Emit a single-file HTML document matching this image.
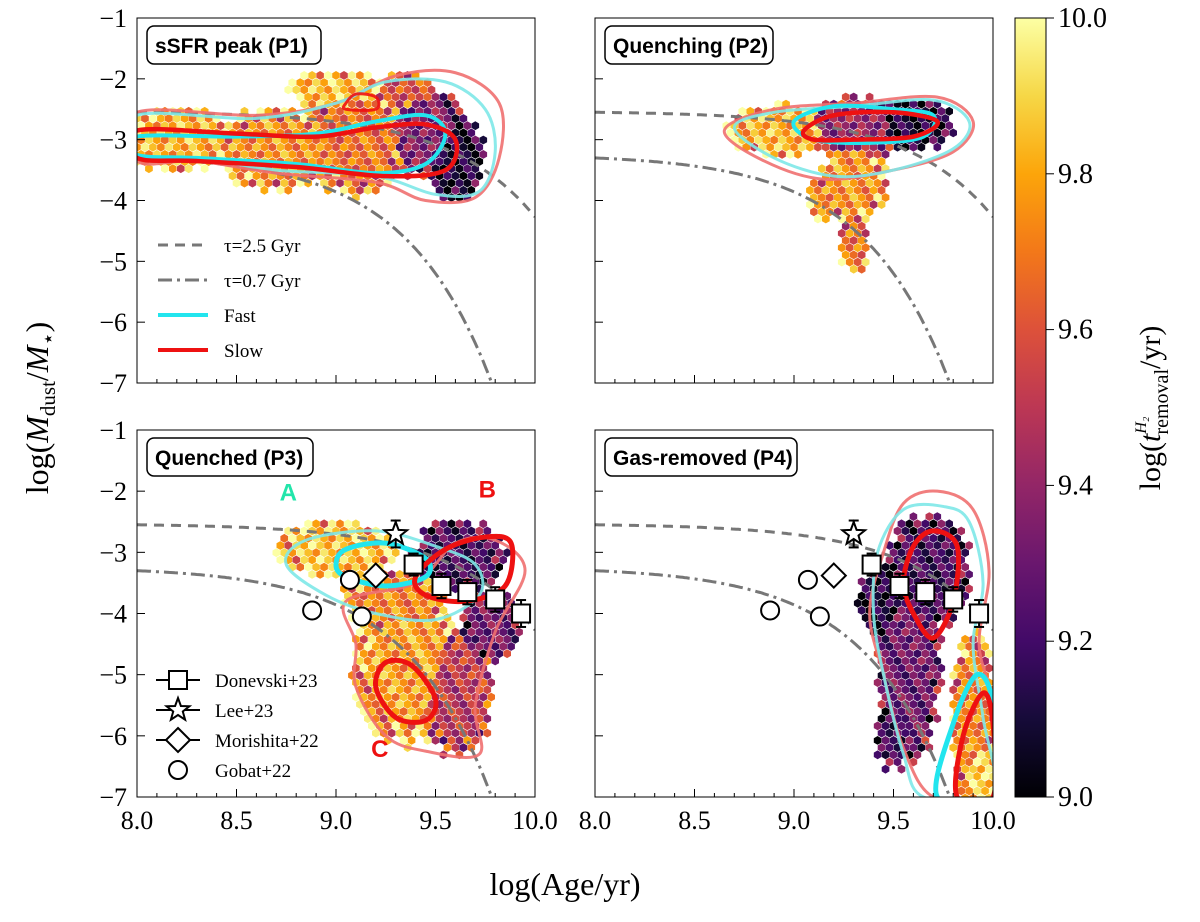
<!DOCTYPE html>
<html><head><meta charset="utf-8">
<style>
body{margin:0;background:#fff;width:1200px;height:917px;overflow:hidden;font-family:"Liberation Serif",serif;}
svg text{font-family:"Liberation Serif",serif;}
.lbl{font-family:"Liberation Sans",sans-serif;font-weight:bold;}
</style></head>
<body>
<svg id="fig" width="1200" height="917" viewBox="0 0 1200 917" xmlns="http://www.w3.org/2000/svg">
<defs>
<linearGradient id="cbg" x1="0" y1="1" x2="0" y2="0">
<stop offset="0" stop-color="#000004"/><stop offset="0.1" stop-color="#160b39"/><stop offset="0.2" stop-color="#420a68"/><stop offset="0.3" stop-color="#6a176e"/><stop offset="0.4" stop-color="#932667"/><stop offset="0.5" stop-color="#bc3754"/><stop offset="0.6" stop-color="#dd513a"/><stop offset="0.7" stop-color="#f37819"/><stop offset="0.8" stop-color="#fca50a"/><stop offset="0.9" stop-color="#f6d746"/><stop offset="1" stop-color="#fcffa4"/>
</linearGradient>
</defs>
<g id="plots"></g>
<g id="colorbar">
<rect x="1015" y="18" width="31" height="779" fill="url(#cbg)" stroke="#000" stroke-width="1"/>
</g>
<text x="48" y="408" font-size="32" text-anchor="middle" transform="rotate(-90 48 408)">log(<tspan font-style="italic">M</tspan><tspan font-size="21" dy="7">dust</tspan><tspan dy="-7">/</tspan><tspan font-style="italic">M</tspan><tspan font-size="21" dy="7">⋆</tspan><tspan dy="-7">)</tspan></text>
<text x="565" y="895" font-size="32" text-anchor="middle">log(Age/yr)</text>
<text x="1160" y="408" font-size="30" text-anchor="middle" transform="rotate(-90 1160 408)">log(<tspan font-style="italic">t</tspan><tspan font-size="16" font-style="italic" dy="-14">H₂</tspan><tspan font-size="20" dx="-18" dy="22">removal</tspan><tspan dy="-8">/yr)</tspan></text>
</svg>
<script>
// ---- data ----
var xTicks=[8.0,8.5,9.0,9.5,10.0];
var yTicks=[-1,-2,-3,-4,-5,-6,-7];
var cbTicks=[9.0,9.2,9.4,9.6,9.8,10.0];
var panelTitles=["sSFR peak (P1)","Quenching (P2)","Quenched (P3)","Gas-removed (P4)"];
var tauSlow=2.5, tauFast=0.7, slowY0=-2.55, fastY0=-3.3;
// density clusters per panel: [age, logratio, rx, ry, log t_removal]
var cl1=[[8.2,-3.0,0.3,0.55,9.82],[8.7,-3.15,0.35,0.7,9.75],[9.1,-3.0,0.3,0.95,9.68],[9.45,-2.9,0.2,0.8,9.35],[9.6,-3.3,0.16,0.75,9.1],[9.0,-2.2,0.25,0.35,9.85],[9.35,-2.2,0.15,0.3,9.6]];
var cl2=[[8.95,-2.85,0.3,0.45,9.82],[9.3,-2.8,0.28,0.55,9.4],[9.6,-2.75,0.22,0.45,9.1],[9.3,-3.7,0.18,0.7,9.75],[9.3,-4.7,0.08,0.5,9.7],[9.15,-4.0,0.1,0.4,9.75]];
var cl3=[[9.0,-2.95,0.32,0.5,9.85],[9.62,-3.05,0.25,0.6,9.2],[9.35,-4.9,0.28,1.3,9.78],[9.3,-3.8,0.28,0.55,9.72],[9.6,-5.3,0.2,1.1,9.5],[9.78,-4.2,0.16,0.6,9.3]];
var cl4=[[9.68,-3.3,0.22,1.0,9.2],[9.58,-4.9,0.17,1.6,9.3],[9.9,-5.7,0.12,1.5,9.72],[9.93,-6.6,0.1,0.6,9.88],[9.45,-3.8,0.14,0.6,9.1],[9.5,-6.0,0.1,0.6,9.2]];
// contours [age, y] closed loops
var c1cyanOuter=[[8.0,-2.6],[8.6,-2.65],[9.0,-2.4],[9.25,-2.05],[9.55,-2.05],[9.75,-2.5],[9.8,-3.2],[9.72,-3.85],[9.5,-3.9],[9.2,-3.6],[8.7,-3.5],[8.3,-3.3],[8.0,-3.3]];
var c1redOuter=[[8.0,-2.55],[8.6,-2.6],[9.0,-2.4],[9.3,-1.95],[9.6,-1.9],[9.82,-2.4],[9.82,-3.3],[9.7,-3.95],[9.45,-4.0],[9.2,-3.7],[8.7,-3.55],[8.3,-3.35],[8.0,-3.35]];
var c1cyan=[[8.0,-2.95],[8.5,-2.95],[8.9,-2.9],[9.2,-2.7],[9.45,-2.6],[9.55,-2.9],[9.45,-3.4],[9.2,-3.55],[8.8,-3.4],[8.3,-3.3],[8.0,-3.25]];
var c1red=[[8.0,-2.85],[8.5,-2.9],[8.9,-2.95],[9.2,-2.8],[9.45,-2.75],[9.6,-3.0],[9.55,-3.5],[9.25,-3.6],[8.8,-3.45],[8.3,-3.35],[8.0,-3.3]];
var c1red2=[[9.05,-2.4],[9.1,-2.25],[9.2,-2.3],[9.2,-2.5],[9.05,-2.5]];
var c2cyanOuter=[[8.7,-2.8],[8.9,-2.55],[9.3,-2.45],[9.7,-2.35],[9.88,-2.7],[9.8,-3.15],[9.5,-3.5],[9.2,-3.6],[8.9,-3.3]];
var c2redOuter=[[8.65,-2.85],[8.9,-2.5],[9.3,-2.4],[9.72,-2.3],[9.9,-2.7],[9.8,-3.2],[9.5,-3.5],[9.15,-3.65],[8.85,-3.35]];
var c2cyan=[[9.0,-2.7],[9.2,-2.45],[9.5,-2.5],[9.7,-2.6],[9.65,-2.95],[9.4,-3.05],[9.1,-3.0]];
var c2red=[[9.05,-2.85],[9.2,-2.6],[9.5,-2.55],[9.72,-2.7],[9.6,-2.95],[9.3,-3.0],[9.1,-3.0]];
var c3cyanOuter=[[8.75,-3.2],[8.85,-2.8],[9.2,-2.65],[9.5,-2.9],[9.7,-3.2],[9.72,-3.7],[9.5,-4.1],[9.2,-4.0],[8.95,-3.7]];
var c3cyan=[[9.0,-3.2],[9.05,-2.95],[9.25,-2.85],[9.45,-3.1],[9.45,-3.4],[9.25,-3.55],[9.05,-3.4]];
var c3redOuter=[[9.05,-3.8],[9.4,-3.5],[9.6,-2.85],[9.8,-2.8],[9.95,-3.3],[9.8,-4.3],[9.7,-5.5],[9.72,-6.3],[9.45,-6.25],[9.25,-6.0],[9.1,-5.2],[9.1,-4.5]];
var c3redB=[[9.4,-3.4],[9.55,-2.95],[9.75,-2.75],[9.88,-2.85],[9.85,-3.55],[9.65,-3.8],[9.45,-3.7]];
var c3redC=[[9.2,-5.2],[9.25,-4.8],[9.38,-4.85],[9.5,-5.4],[9.45,-5.75],[9.3,-5.7]];
var c4cyanOuter=[[9.42,-3.0],[9.55,-2.3],[9.75,-2.25],[9.88,-2.5],[9.95,-3.5],[9.9,-4.5],[9.95,-5.7],[10.0,-7],[9.65,-7],[9.55,-6.3],[9.45,-5.0],[9.4,-4.0]];
var c4redOuter=[[9.45,-3.0],[9.55,-2.2],[9.72,-2.0],[9.9,-2.3],[9.98,-3.3],[9.93,-4.5],[10.0,-5.5],[10.0,-7],[9.7,-7],[9.55,-6.2],[9.45,-5.0],[9.38,-4.0]];
var c4red=[[9.55,-3.5],[9.6,-2.9],[9.7,-2.65],[9.82,-2.9],[9.8,-3.8],[9.7,-4.4],[9.6,-4.0]];
var c4cyan=[[9.72,-7],[9.8,-5.8],[9.92,-5.0],[10.0,-5.5],[10.0,-7]];
var c4red2=[[9.82,-7],[9.85,-6.0],[9.95,-5.3],[10.0,-5.8],[10.0,-7]];
// observations
var donX=[9.39,9.53,9.66,9.8,9.93], donY=[-3.2,-3.55,-3.65,-3.77,-4.0], donE=[0.18,0.2,0.2,0.2,0.22];
var leeX=[9.3], leeY=[-2.7], leeE=[0.22];
var morX=[9.2], morY=[-3.38];
var gobX=[8.88,9.07,9.13], gobY=[-3.95,-3.45,-4.05];

// ---- helpers ----
var NS="http://www.w3.org/2000/svg";
var inf=[[0,0,0,4],[0.1,22,11,57],[0.2,66,10,104],[0.3,106,23,110],[0.4,147,38,103],[0.5,188,55,84],[0.6,221,81,58],[0.7,243,120,25],[0.8,252,165,10],[0.9,246,215,70],[1,252,255,164]];
function cmap(v){var t=Math.max(0,Math.min(1,v-9));for(var i=1;i<inf.length;i++){if(t<=inf[i][0]){var a=inf[i-1],b=inf[i],f=(t-a[0])/(b[0]-a[0]);return "rgb("+[1,2,3].map(function(k){return Math.round(a[k]+f*(b[k]-a[k]));}).join(",")+")";}}return "rgb(252,255,164)";}
function mk(tag,attrs,parent){var e=document.createElementNS(NS,tag);for(var k in attrs)e.setAttribute(k,attrs[k]);parent.appendChild(e);return e;}
var root=document.getElementById('plots');
var panels=[{x0:137,x1:535,y0:18,y1:383},{x0:595,x1:993,y0:18,y1:383},{x0:137,x1:535,y0:430,y1:797},{x0:595,x1:993,y0:430,y1:797}];
var clusters=[cl1,cl2,cl3,cl4];
var contours=[
 [[c1redOuter,"#f07070",3],[c1cyanOuter,"#7ee8e8",3],[c1cyan,"#22e5ee",4],[c1red,"#ee1111",4.5],[c1red2,"#ee1111",3]],
 [[c2redOuter,"#f07070",3],[c2cyanOuter,"#7ee8e8",3],[c2cyan,"#22e5ee",4],[c2red,"#ee1111",4.5]],
 [[c3redOuter,"#f07070",3],[c3cyanOuter,"#7ee8e8",3],[c3cyan,"#22e5ee",5],[c3redB,"#ee1111",5],[c3redC,"#ee1111",5]],
 [[c4redOuter,"#f07070",3],[c4cyanOuter,"#7ee8e8",3],[c4red,"#ee1111",5],[c4cyan,"#22e5ee",5],[c4red2,"#ee1111",5]]];
function smooth(pts){var n=pts.length,d="";for(var i=0;i<n;i++){var p0=pts[(i-1+n)%n],p1=pts[i],p2=pts[(i+1)%n],p3=pts[(i+2)%n];if(i==0)d+="M"+p1[0]+","+p1[1];var c1=[p1[0]+(p2[0]-p0[0])/6,p1[1]+(p2[1]-p0[1])/6],c2=[p2[0]-(p3[0]-p1[0])/6,p2[1]-(p3[1]-p1[1])/6];d+="C"+c1[0]+","+c1[1]+" "+c2[0]+","+c2[1]+" "+p2[0]+","+p2[1];}return d+"Z";}

panels.forEach(function(P,pi){
 var sx=function(v){return P.x0+(v-8)/2*(P.x1-P.x0);};
 var sy=function(v){return P.y0+(-1-v)/6*(P.y1-P.y0);};
 var g=mk('g',{},root);
 
 
 var cid='clip'+pi;
 var cp=mk('clipPath',{id:cid},g);mk('rect',{x:P.x0,y:P.y0,width:P.x1-P.x0,height:P.y1-P.y0},cp);
 var inner=mk('g',{'clip-path':'url(#'+cid+')'},g);
 var hg=mk('g',{},inner);
 
 
 var dx=0.04,dy=0.118;
 for(var j=0;j<60;j++){for(var i=0;i<52;i++){var ax=8+i*dx+(j%2?dx/2:0),ay=-1-j*dy;
  var best=null,bd=1;clusters[pi].forEach(function(c){var d=Math.pow((ax-c[0])/c[2],2)+Math.pow((ay-c[1])/c[3],2);if(d<bd){bd=d;best=c;}});
  if(best){var h=((i*7+j*13)%11);if(bd>0.8&&h<4)continue;var val=best[4]+((h-5)*0.02)*(bd>0.5?3:1.5);
   var cx=sx(ax),cy=sy(ay),r=4.4;var pts=[];for(var k=0;k<6;k++){var an=Math.PI/3*k+Math.PI/6;pts.push((cx+r*Math.cos(an)).toFixed(1)+","+(cy+r*Math.sin(an)).toFixed(1));}
   var hx=mk('polygon',{points:pts.join(" "),fill:cmap(val)},hg);
   
   }}}
 [[tauSlow,slowY0,"10,7",'tau-2.5-curve'],[tauFast,fastY0,"14,5,3,5",'tau-0.7-curve']].forEach(function(m){var d="";for(var a=8;a<=10.001;a+=0.01){var y=m[1]-Math.LOG10E*(Math.pow(10,a)-1e8)/1e9/m[0];d+=(d?"L":"M")+sx(a).toFixed(1)+","+sy(y).toFixed(1);}
  var pth=mk('path',{d:d,fill:'none',stroke:'#777','stroke-width':3,'stroke-dasharray':m[2]},inner);
  
  });
 contours[pi].forEach(function(c){var pts=c[0].map(function(p){return [sx(p[0]),sy(p[1])];});
  var pth=mk('path',{d:smooth(pts),fill:'none',stroke:c[1],'stroke-width':c[2],opacity:c[2]>3?1:0.9},inner);
  
  });
 if(pi>=2){var og=mk('g',{},inner);
  
  
  function eb(x,y,e){mk('line',{x1:sx(x),x2:sx(x),y1:sy(y+e),y2:sy(y-e),stroke:'#000','stroke-width':2},og);mk('line',{x1:sx(x)-5,x2:sx(x)+5,y1:sy(y+e),y2:sy(y+e),stroke:'#000','stroke-width':2},og);mk('line',{x1:sx(x)-5,x2:sx(x)+5,y1:sy(y-e),y2:sy(y-e),stroke:'#000','stroke-width':2},og);}
  donX.forEach(function(x,i){eb(x,donY[i],donE[i]);var r=mk('rect',{x:sx(x)-9,y:sy(donY[i])-9,width:18,height:18,fill:'#fff',stroke:'#000','stroke-width':2},og);});
  leeX.forEach(function(x,i){eb(x,leeY[i],leeE[i]);var cx=sx(x),cy=sy(leeY[i]),p=[];for(var k=0;k<10;k++){var rr=k%2?5:12,an=-Math.PI/2+k*Math.PI/5;p.push((cx+rr*Math.cos(an)).toFixed(1)+","+(cy+rr*Math.sin(an)).toFixed(1));}var s=mk('polygon',{points:p.join(" "),fill:'#fff',stroke:'#000','stroke-width':2},og);});
  morX.forEach(function(x,i){var cx=sx(x),cy=sy(morY[i]);var s=mk('polygon',{points:[cx,cy-12,cx+12,cy,cx,cy+12,cx-12,cy].join(" "),fill:'#fff',stroke:'#000','stroke-width':2},og);});
  gobX.forEach(function(x,i){var s=mk('circle',{cx:sx(x),cy:sy(gobY[i]),r:9,fill:'#fff',stroke:'#000','stroke-width':2},og);});
 }
 var fr=mk('rect',{x:P.x0,y:P.y0,width:P.x1-P.x0,height:P.y1-P.y0,fill:'none',stroke:'#000','stroke-width':1},g);
 
 
 xTicks.forEach(function(t){mk('line',{x1:sx(t),x2:sx(t),y1:P.y1,y2:P.y1-8,stroke:'#000'},g);
  if(pi>=2){var tx=mk('text',{x:sx(t),y:P.y1+32,'font-size':26,'text-anchor':'middle'},g);tx.textContent=t.toFixed(1);}});
 for(var m=8.1;m<10;m+=0.1){mk('line',{x1:sx(m),x2:sx(m),y1:P.y1,y2:P.y1-4,stroke:'#000'},g);}
 yTicks.forEach(function(t){mk('line',{x1:P.x0,x2:P.x0+8,y1:sy(t),y2:sy(t),stroke:'#000'},g);
  if(pi%2==0){var tx=mk('text',{x:P.x0-10,y:sy(t)+9,'font-size':26,'text-anchor':'end'},g);tx.textContent="−"+Math.abs(t);}});
 var tb=mk('rect',{x:P.x0+10,y:P.y0+8,width:[174,168,166,192][pi],height:38,rx:7,fill:'#fff',stroke:'#000','stroke-width':1.5},g);
 
 
 var tt=mk('text',{x:P.x0+18,y:P.y0+35,'font-size':21,'class':'lbl'},g);tt.textContent=panelTitles[pi];
 
 
 if(pi==2){[["A",8.76,-2.15,"#22e5aa"],["B",9.76,-2.1,"#ee1111"],["C",9.22,-6.35,"#ee1111"]].forEach(function(l){var t=mk('text',{x:sx(l[1]),y:sy(l[2]),'font-size':24,fill:l[3],'class':'lbl','text-anchor':'middle'},g);t.textContent=l[0];});
  var lg=mk('g',{},g);
  var names=["Donevski+23","Lee+23","Morishita+22","Gobat+22"];
  names.forEach(function(n,i){var y=680+i*30,x=178;if(i<3)mk('line',{x1:x-22,x2:x+22,y1:y,y2:y,stroke:'#000','stroke-width':2},lg);
   if(i==0)mk('rect',{x:x-9,y:y-9,width:18,height:18,fill:'#fff',stroke:'#000','stroke-width':2},lg);
   if(i==1){var p=[];for(var k=0;k<10;k++){var rr=k%2?5:12,an=-Math.PI/2+k*Math.PI/5;p.push((x+rr*Math.cos(an)).toFixed(1)+","+(y+rr*Math.sin(an)).toFixed(1));}mk('polygon',{points:p.join(" "),fill:'#fff',stroke:'#000','stroke-width':2},lg);}
   if(i==2)mk('polygon',{points:[x,y-12,x+12,y,x,y+12,x-12,y].join(" "),fill:'#fff',stroke:'#000','stroke-width':2},lg);
   if(i==3)mk('circle',{cx:x,cy:y,r:9,fill:'#fff',stroke:'#000','stroke-width':2},lg);
   var t=mk('text',{x:215,y:y+7,'font-size':19},lg);t.textContent=n;});
 }
 if(pi==0){var lg=mk('g',{},g);
  [["τ=2.5 Gyr","#777","10,7"],["τ=0.7 Gyr","#777","14,5,3,5"],["Fast","#22e5ee",""],["Slow","#ee1111",""]].forEach(function(e,i){var y=245+i*35;
   mk('line',{x1:158,x2:208,y1:y,y2:y,stroke:e[1],'stroke-width':e[2]?3:4,'stroke-dasharray':e[2]},lg);
   var t=mk('text',{x:224,y:y+7,'font-size':19},lg);t.textContent=e[0];});}
});
var cb=document.getElementById('colorbar');
cbTicks.forEach(function(t){var y=797-(t-9)*779;mk('line',{x1:1046,x2:1054,y1:y,y2:y,stroke:'#000'},cb);
 var tx=mk('text',{x:1058,y:y+9,'font-size':28},cb);tx.textContent=t.toFixed(1);
 
 });
</script>
</body></html>
